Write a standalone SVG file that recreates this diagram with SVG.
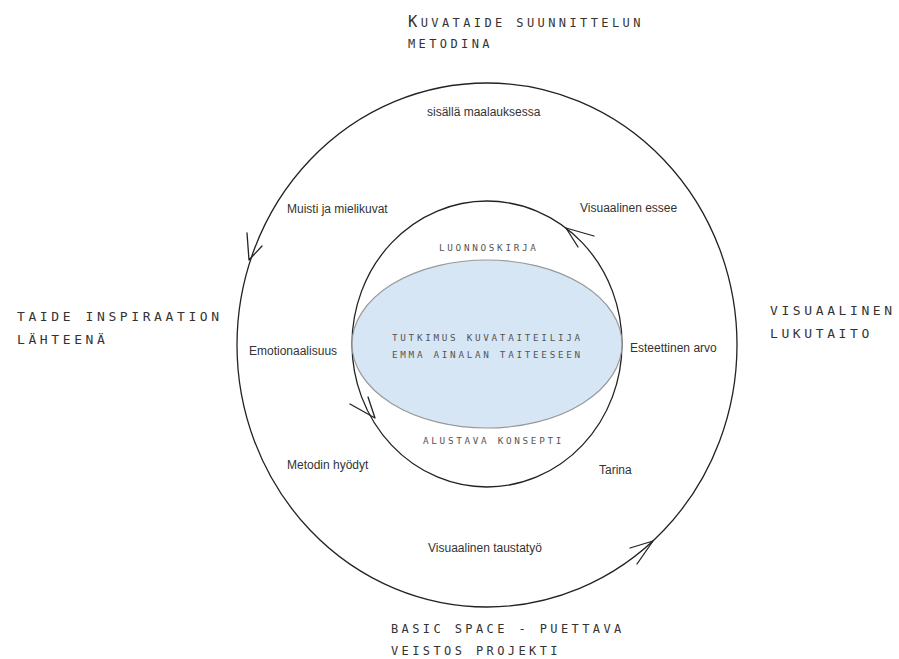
<svg xmlns="http://www.w3.org/2000/svg" width="899" height="659" viewBox="0 0 899 659">
<style>
.ring{fill:none;stroke:#222;stroke-width:1.3}
.arr{fill:none;stroke:#222;stroke-width:1.3;stroke-linecap:round;stroke-linejoin:round}
.lbl{font-family:"Liberation Sans",Arial,sans-serif;font-size:12px;fill:#333}
.mono{font-family:"DejaVu Sans Mono","Liberation Mono",monospace;fill:#333}
.big{font-size:13px;letter-spacing:3.6px}
.mid{font-size:12px;letter-spacing:3.4px}
.sm{font-size:9.3px;letter-spacing:2.7px;fill:#555}
</style>
<rect width="899" height="659" fill="#fff"/>
<g id="outer-ring">
<ellipse class="ring" cx="487" cy="345" rx="250" ry="262"/>
</g>
<g id="inner-ring">
<ellipse class="ring" cx="487" cy="344" rx="135" ry="143"/>
</g>
<g id="core">
<ellipse cx="487" cy="344" rx="135" ry="84" fill="#d7e6f4" stroke="#999" stroke-width="1.2"/>
<text class="mono sm" x="392" y="341">TUTKIMUS KUVATAITEILIJA</text>
<text class="mono sm" x="392" y="358">EMMA AINALAN TAITEESEEN</text>
</g>
<g id="connectors">
<polyline class="arr" points="247,233 249,260 262,246"/>
<polyline class="arr" points="594,236 566,228 578,247"/>
<polyline class="arr" points="350,404 375,418 368,397"/>
<polyline class="arr" points="630,548 653,541 637,564"/>
</g>
<g id="title-top">
<text class="mono mid" x="408" y="27"><tspan font-size="15.5px">K</tspan>UVATAIDE SUUNNITTELUN</text>
<text class="mono mid" x="408" y="48">METODINA</text>
</g>
<g id="title-left">
<text class="mono big" x="17" y="321">TAIDE INSPIRAATION</text>
<text class="mono big" x="17" y="344">LÄHTEENÄ</text>
</g>
<g id="title-right">
<text class="mono big" x="770" y="315">VISUAALINEN</text>
<text class="mono big" x="770" y="338">LUKUTAITO</text>
</g>
<g id="title-bottom">
<text class="mono mid" x="391" y="633">BASIC SPACE - PUETTAVA</text>
<text class="mono mid" x="391" y="655">VEISTOS PROJEKTI</text>
</g>
<g id="luonnoskirja"><text class="mono sm" x="439" y="251">LUONNOSKIRJA</text></g>
<g id="alustava"><text class="mono sm" x="423" y="444">ALUSTAVA KONSEPTI</text></g>
<g id="sisalla"><text class="lbl" x="427" y="116">sisällä maalauksessa</text></g>
<g id="muisti"><text class="lbl" x="287" y="213">Muisti ja mielikuvat</text></g>
<g id="essee"><text class="lbl" x="580" y="212">Visuaalinen essee</text></g>
<g id="emotio"><text class="lbl" x="249" y="355">Emotionaalisuus</text></g>
<g id="esteettinen"><text class="lbl" x="630" y="352">Esteettinen arvo</text></g>
<g id="metodin"><text class="lbl" x="287" y="469">Metodin hyödyt</text></g>
<g id="tarina"><text class="lbl" x="599" y="474">Tarina</text></g>
<g id="taustatyo"><text class="lbl" x="428" y="552">Visuaalinen taustatyö</text></g>
</svg>
